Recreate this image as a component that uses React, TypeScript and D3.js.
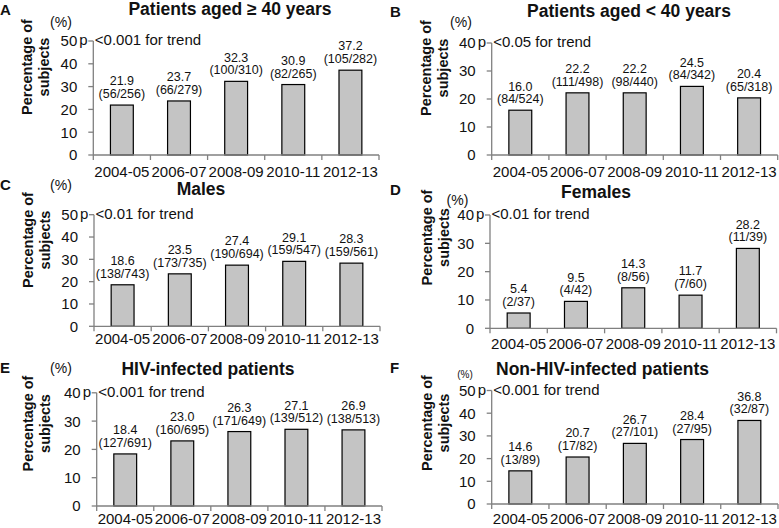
import React from "react";
import * as d3 from "d3";

// ---------- data ----------
const categories = ["2004-05", "2006-07", "2008-09", "2010-11", "2012-13"];

const valuesA = [21.9, 23.7, 32.3, 30.9, 37.2];
const countsA = ["56/256", "66/279", "100/310", "82/265", "105/282"];
const valuesB = [16.0, 22.2, 22.2, 24.5, 20.4];
const countsB = ["84/524", "111/498", "98/440", "84/342", "65/318"];
const valuesC = [18.6, 23.5, 27.4, 29.1, 28.3];
const countsC = ["138/743", "173/735", "190/694", "159/547", "159/561"];
const valuesD = [5.4, 9.5, 14.3, 11.7, 28.2];
const countsD = ["2/37", "4/42", "8/56", "7/60", "11/39"];
const valuesE = [18.4, 23.0, 26.3, 27.1, 26.9];
const countsE = ["127/691", "160/695", "171/649", "139/512", "138/513"];
const valuesF = [14.6, 20.7, 26.7, 28.4, 36.8];
const countsF = ["13/89", "17/82", "27/101", "27/95", "32/87"];

const panelLetters = ["A", "B", "C", "D", "E", "F"];
const titles = [
  "Patients aged ≥ 40 years",
  "Patients aged < 40 years",
  "Males",
  "Females",
  "HIV-infected patients",
  "Non-HIV-infected patients",
];
const pTrend = ["<0.001", "<0.05", "<0.01", "<0.01", "<0.001", "<0.001"];
const yMaxes = [50, 40, 50, 40, 40, 50];
const yStep = 10;
const allValues = [valuesA, valuesB, valuesC, valuesD, valuesE, valuesF];
const allCounts = [countsA, countsB, countsC, countsD, countsE, countsF];

// ---------- layout (pixel geometry per panel) ----------
interface Layout {
  x0: number; x1: number; y0: number; yTop: number;
  letterX: number; letterY: number;
  titleX: number; titleY: number;
  pctX: number; pctY: number; pctSize: number;
  ylabX: number; ylabY: number;
  xlabY: number;
}
const layouts: Layout[] = [
  { x0: 93.3, x1: 379, y0: 155, yTop: 41, letterX: 0, letterY: 15, titleX: 230, titleY: 15, pctX: 61, pctY: 27, pctSize: 14, ylabX: 31.5, ylabY: 67, xlabY: 176.5 },
  { x0: 491.7, x1: 777.7, y0: 155, yTop: 43, letterX: 390, letterY: 16.5, titleX: 629, titleY: 16.5, pctX: 461, pctY: 27, pctSize: 14, ylabX: 431, ylabY: 68, xlabY: 176.5 },
  { x0: 94, x1: 380, y0: 326.3, yTop: 214.7, letterX: 0, letterY: 190, titleX: 201, titleY: 195, pctX: 61, pctY: 190, pctSize: 14, ylabX: 32.5, ylabY: 240, xlabY: 344 },
  { x0: 490, x1: 776.5, y0: 328.3, yTop: 215, letterX: 390, letterY: 195, titleX: 596, titleY: 198, pctX: 457.5, pctY: 205, pctSize: 14, ylabX: 431.5, ylabY: 237.5, xlabY: 349 },
  { x0: 96.7, x1: 382, y0: 506, yTop: 392.8, letterX: 0, letterY: 373, titleX: 208, titleY: 375, pctX: 61, pctY: 373, pctSize: 14, ylabX: 32.5, ylabY: 423.5, xlabY: 524 },
  { x0: 491.7, x1: 778, y0: 504, yTop: 390.5, letterX: 390, letterY: 373, titleX: 602.5, titleY: 375, pctX: 465, pctY: 378, pctSize: 10, ylabX: 431.5, ylabY: 423, xlabY: 524 },
];

const FONT = "'Liberation Sans', Arial, Helvetica, sans-serif";
const TEXT = "#111";
const AXIS = "#808080";
const BAR = "#c4c4c4";
const fmt = d3.format(".1f");

function Panel({ idx }: { idx: number }) {
  const L = layouts[idx];
  const values = allValues[idx];
  const counts = allCounts[idx];
  const yMax = yMaxes[idx];

  const x = d3
    .scaleBand<string>()
    .domain(categories)
    .range([L.x0, L.x1])
    .paddingInner(0.6)
    .paddingOuter(0.3);
  const y = d3.scaleLinear().domain([0, yMax]).range([L.y0, L.yTop]);
  const yTicks = d3.range(0, yMax + 0.001, yStep);
  const step = x.step();
  const xTicks = d3.range(0, categories.length + 1).map((i) => L.x0 + i * step);

  return (
    <g fontFamily={FONT} fill={TEXT}>
      <text x={L.letterX} y={L.letterY} fontSize={15} fontWeight="bold">
        {panelLetters[idx]}
      </text>
      <text x={L.titleX} y={L.titleY} fontSize={17.5} fontWeight="bold" textAnchor="middle">
        {titles[idx]}
      </text>
      <text x={L.pctX} y={L.pctY} fontSize={L.pctSize} textAnchor="middle">
        (%)
      </text>
      <g transform={`translate(${L.ylabX},${L.ylabY}) rotate(-90)`}>
        <text x={0} y={0} fontSize={14.5} fontWeight="bold" textAnchor="middle">
          Percentage of
        </text>
        <text x={0} y={17} fontSize={14.5} fontWeight="bold" textAnchor="middle">
          subjects
        </text>
      </g>

      {values.map((v, i) => (
        <rect
          key={"b" + i}
          x={x(categories[i])!}
          y={y(v)}
          width={x.bandwidth()}
          height={L.y0 - y(v)}
          fill={BAR}
          stroke="#000"
          strokeWidth={1.2}
        />
      ))}

      {values.map((v, i) => {
        const cx = x(categories[i])! + x.bandwidth() / 2;
        const base = y(v) - 7;
        return (
          <text key={"v" + i} fontSize={12.5} textAnchor="middle">
            <tspan x={cx} y={base - 12.7}>{fmt(v)}</tspan>
            <tspan x={cx} y={base}>{`(${counts[i]})`}</tspan>
          </text>
        );
      })}

      <line x1={L.x0} x2={L.x0} y1={y(yMax)} y2={L.y0} stroke={AXIS} strokeWidth={1.3} />
      {yTicks.map((t) => (
        <g key={"yt" + t}>
          <line x1={L.x0 - 5} x2={L.x0} y1={y(t)} y2={y(t)} stroke={AXIS} strokeWidth={1.3} />
          <text x={L.x0 - 16} y={y(t)} dy="0.36em" fontSize={15} textAnchor="end">
            {t}
          </text>
        </g>
      ))}

      <line x1={L.x0} x2={L.x1} y1={L.y0} y2={L.y0} stroke={AXIS} strokeWidth={1.3} />
      {xTicks.map((tx, i) => (
        <line key={"xt" + i} x1={tx} x2={tx} y1={L.y0} y2={L.y0 + 5} stroke={AXIS} strokeWidth={1.3} />
      ))}
      {categories.map((c) => (
        <text key={"xl" + c} x={x(c)! + x.bandwidth() / 2} y={L.xlabY} fontSize={15} textAnchor="middle">
          {c}
        </text>
      ))}

      <text y={y(yMax) - 1} dy="0.36em" fontSize={15}>
        <tspan x={L.x0 - 14}>p</tspan>
        <tspan x={L.x0 + 1.5}>{`${pTrend[idx]} for trend`}</tspan>
      </text>
    </g>
  );
}

export default function App() {
  return (
    <svg
      width={779}
      height={528}
      viewBox="0 0 779 528"
      style={{ position: "absolute", left: 0, top: 0, background: "#fff", display: "block" }}
    >
      <rect x={0} y={0} width={779} height={528} fill="#fff" />
      {panelLetters.map((_, i) => (
        <Panel key={i} idx={i} />
      ))}
    </svg>
  );
}
